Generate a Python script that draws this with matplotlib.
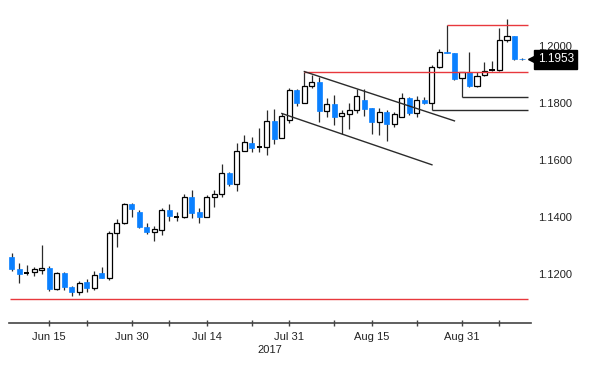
import numpy as np
import matplotlib
matplotlib.use("Agg")
import matplotlib.pyplot as plt
import matplotlib.transforms as mtransforms

# EUR/USD daily candles, Jun 8 - Sep 12 2017 (trading days)
dates = ["Jun 8", "Jun 9", "Jun 12", "Jun 13", "Jun 14", "Jun 15", "Jun 16", "Jun 19", "Jun 20",
         "Jun 21", "Jun 22", "Jun 23", "Jun 26", "Jun 27", "Jun 28", "Jun 29", "Jun 30", "Jul 3",
         "Jul 4", "Jul 5", "Jul 6", "Jul 7", "Jul 10", "Jul 11", "Jul 12", "Jul 13", "Jul 14",
         "Jul 17", "Jul 18", "Jul 19", "Jul 20", "Jul 21", "Jul 24", "Jul 25", "Jul 26", "Jul 27",
         "Jul 28", "Jul 31", "Aug 1", "Aug 2", "Aug 3", "Aug 4", "Aug 7", "Aug 8", "Aug 9",
         "Aug 10", "Aug 11", "Aug 14", "Aug 15", "Aug 16", "Aug 17", "Aug 18", "Aug 21", "Aug 22",
         "Aug 23", "Aug 24", "Aug 25", "Aug 28", "Aug 29", "Aug 30", "Aug 31", "Sep 1", "Sep 4",
         "Sep 5", "Sep 6", "Sep 7", "Sep 8", "Sep 11", "Sep 12"]
opens = [1.1260, 1.1218, 1.1203, 1.1207, 1.1214, 1.1222, 1.1147, 1.1204, 1.1153, 1.1136,
         1.1171, 1.1152, 1.1202, 1.1185, 1.1343, 1.1380, 1.1445, 1.1419, 1.1366, 1.1346,
         1.1354, 1.1425, 1.1399, 1.1399, 1.1469, 1.1417, 1.1401, 1.1469, 1.1481, 1.1555,
         1.1516, 1.1632, 1.1661, 1.1647, 1.1647, 1.1737, 1.1676, 1.1740, 1.1846, 1.1801,
         1.1860, 1.1873, 1.1772, 1.1796, 1.1755, 1.1761, 1.1775, 1.1811, 1.1781, 1.1734,
         1.1769, 1.1726, 1.1752, 1.1816, 1.1764, 1.1811, 1.1799, 1.1925, 1.1980, 1.1974,
         1.1887, 1.1910, 1.1860, 1.1898, 1.1916, 1.1916, 1.2021, 1.2035, 1.1955]
highs = [1.1274, 1.1240, 1.1232, 1.1226, 1.1302, 1.1229, 1.1207, 1.1207, 1.1159, 1.1174,
         1.1181, 1.1211, 1.1223, 1.1351, 1.1393, 1.1450, 1.1448, 1.1425, 1.1378, 1.1368,
         1.1431, 1.1446, 1.1416, 1.1481, 1.1495, 1.1431, 1.1477, 1.1495, 1.1586, 1.1557,
         1.1661, 1.1688, 1.1682, 1.1711, 1.1775, 1.1778, 1.1765, 1.1852, 1.1848, 1.1909,
         1.1898, 1.1892, 1.1816, 1.1828, 1.1775, 1.1799, 1.1848, 1.1848, 1.1783, 1.1781,
         1.1775, 1.1769, 1.1834, 1.1822, 1.1825, 1.1822, 1.1933, 1.1988, 1.2074, 1.1976,
         1.1910, 1.1980, 1.1910, 1.1945, 1.1948, 1.2062, 1.2094, 1.2035, 1.1957]
lows = [1.1211, 1.1168, 1.1196, 1.1193, 1.1200, 1.1140, 1.1144, 1.1143, 1.1124, 1.1125,
        1.1138, 1.1144, 1.1185, 1.1180, 1.1296, 1.1375, 1.1401, 1.1360, 1.1340, 1.1317,
        1.1337, 1.1387, 1.1387, 1.1395, 1.1395, 1.1378, 1.1399, 1.1436, 1.1469, 1.1510,
        1.1492, 1.1630, 1.1629, 1.1629, 1.1618, 1.1656, 1.1676, 1.1729, 1.1789, 1.1799,
        1.1852, 1.1734, 1.1752, 1.1723, 1.1691, 1.1708, 1.1766, 1.1754, 1.1691, 1.1688,
        1.1667, 1.1717, 1.1750, 1.1758, 1.1752, 1.1796, 1.1775, 1.1922, 1.1974, 1.1882,
        1.1822, 1.1855, 1.1855, 1.1895, 1.1912, 1.1913, 1.2015, 1.1950, 1.1950]
closes = [1.1218, 1.1200, 1.1203, 1.1218, 1.1221, 1.1146, 1.1202, 1.1153, 1.1136, 1.1170,
          1.1152, 1.1195, 1.1185, 1.1343, 1.1380, 1.1445, 1.1428, 1.1366, 1.1346, 1.1357,
          1.1425, 1.1405, 1.1399, 1.1469, 1.1415, 1.1401, 1.1471, 1.1481, 1.1553, 1.1516,
          1.1633, 1.1664, 1.1641, 1.1647, 1.1737, 1.1674, 1.1754, 1.1846, 1.1801, 1.1860,
          1.1873, 1.1773, 1.1795, 1.1752, 1.1764, 1.1775, 1.1825, 1.1778, 1.1734, 1.1767,
          1.1726, 1.1761, 1.1816, 1.1764, 1.1811, 1.1800, 1.1925, 1.1980, 1.1974, 1.1884,
          1.1910, 1.1860, 1.1896, 1.1912, 1.1916, 1.2021, 1.2035, 1.1953, 1.1953]

# drawn levels (start date, price) and trend channel (start date, price, end date, price)
red_levels = [("Jun 8", 1.1112), ("Aug 2", 1.1909), ("Aug 29", 1.2074)]
black_levels = [("Aug 31", 1.1822), ("Aug 25", 1.1775)]
channel = [("Aug 2", 1.1910, "Aug 30", 1.1737), ("Jul 28", 1.1763, "Aug 25", 1.1583)]
last_price = 1.1953

tick_dates = ["Jun 15", "Jun 22", "Jun 30", "Jul 7", "Jul 14", "Jul 24", "Jul 31",
              "Aug 8", "Aug 15", "Aug 23", "Aug 31", "Sep 7"]
tick_labels = ["Jun 15", "", "Jun 30", "", "Jul 14", "", "Jul 31", "", "Aug 15", "", "Aug 31", ""]
yticks = [1.12, 1.14, 1.16, 1.18, 1.20]

BLUE = "#0a80ff"
RED = "#e8383d"
DARK = "#2b2b2b"
plt.rcParams["font.family"] = ["Liberation Sans", "DejaVu Sans"]

o, h, l, c = map(np.array, (opens, highs, lows, closes))
x = np.arange(len(dates))
pos = {d: i for i, d in enumerate(dates)}
right_end = len(dates) - 0.2

fig = plt.figure(figsize=(6.0, 3.73), dpi=100)
ax = fig.add_axes([0.015, 0.134, 0.87, 0.866])

ax.vlines(x, l, h, color=DARK, linewidth=0.9, zorder=1)
up = c > o
down = c < o
flat = c == o
w = 0.68
ax.bar(x[up], (c - o)[up], bottom=o[up], width=w, color="white", edgecolor="black",
       linewidth=0.9, zorder=2)
ax.bar(x[down], (o - c)[down], bottom=c[down], width=w, color=BLUE, edgecolor=BLUE,
       linewidth=0.5, zorder=2)
ax.hlines(c[flat], x[flat] - w / 2, x[flat] + w / 2, color="black", linewidth=1.4, zorder=2)

for d, p in red_levels:
    ax.hlines(p, pos[d] - (0.23 if d == "Jun 8" else 0), right_end, color=RED, linewidth=1.0, zorder=3)
for d, p in black_levels:
    ax.hlines(p, pos[d], right_end, color=DARK, linewidth=1.0, zorder=3)
for d0, p0, d1, p1 in channel:
    ax.plot([pos[d0], pos[d1]], [p0, p1], color=DARK, linewidth=1.0, zorder=3)

ax.set_xlim(-0.36, 69.2)
ax.set_ylim(1.1028, 1.2161)

for s in ("top", "left", "right"):
    ax.spines[s].set_visible(False)
ax.spines["bottom"].set_color("#444444")
ax.spines["bottom"].set_linewidth(1.2)

ax.set_xticks([pos[d] for d in tick_dates])
ax.set_xticklabels(tick_labels, fontsize=8, color="#222222")
ax.tick_params(axis="x", direction="inout", length=5, width=1, color="#444444", pad=4)
ax.set_xlabel("2017", fontsize=8, color="#222222", labelpad=2)

ax.yaxis.tick_right()
ax.set_yticks(yticks)
ax.set_yticklabels([f"{v:.4f}" for v in yticks], fontsize=8, color="#222222")
ax.tick_params(axis="y", length=0, pad=5)

# last price tag
trans = mtransforms.blended_transform_factory(ax.transAxes, ax.transData)
ax.plot([1.004], [last_price], marker="<", color="black", markersize=7, transform=trans,
        clip_on=False)
ax.text(1.013, last_price, f"{last_price:.4f}", transform=trans, fontsize=8.5, color="white",
        va="center", ha="left",
        bbox=dict(boxstyle="square,pad=0.3", fc="black", ec="black"))

fig.savefig("out.png", dpi=100)
